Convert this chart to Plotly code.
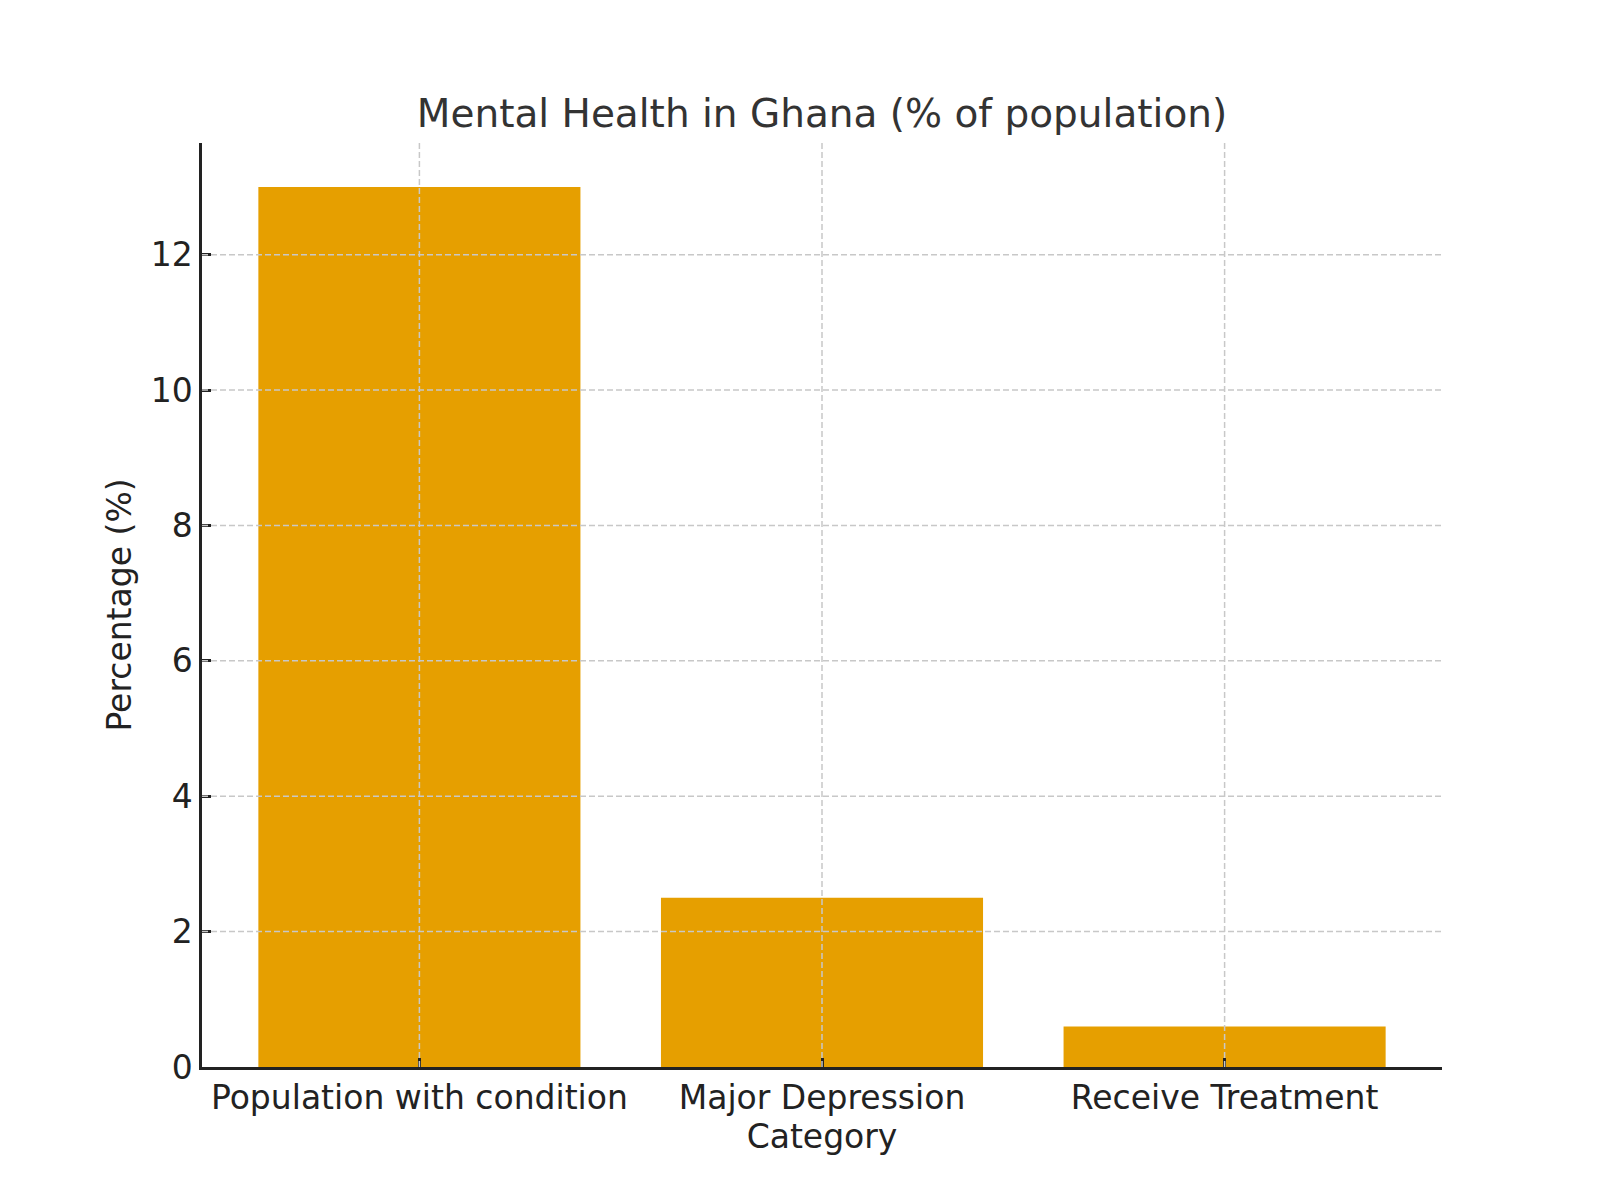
import plotly.graph_objects as go

# mental health figures for Ghana, % of population
categories = ["Population with condition", "Major Depression", "Receive Treatment"]
percentages = [13.0, 2.5, 0.6]
y_ticks = [0, 2, 4, 6, 8, 10, 12]

fig = go.Figure()
fig.add_bar(x=categories, y=percentages, width=0.8, marker=dict(color="#E69F00", line=dict(width=0)))

# grid sits on top of the bars in the original, so draw it as shapes
grid_line = dict(color="#c8c8c8", width=1.5, dash="6px,3px")
for c in categories:
    fig.add_shape(type="line", xref="x", yref="paper", x0=c, x1=c, y0=0, y1=1,
                  line=grid_line, layer="above")
for t in y_ticks[1:]:
    fig.add_shape(type="line", xref="paper", yref="y", x0=0, x1=1, y0=t, y1=t,
                  line=grid_line, layer="above")

axis_font = dict(family="DejaVu Sans", size=33, color="#222222")
fig.update_layout(
    width=1600, height=1200,
    margin=dict(l=194, r=166, t=135, b=141),
    paper_bgcolor="white", plot_bgcolor="white",
    showlegend=False,
    font=dict(family="DejaVu Sans", color="#222222"),
    title=dict(text="Mental Health in Ghana (% of population)", x=0.5, xref="paper", xanchor="center",
               y=1 - 105 / 1200, yanchor="middle", font=dict(size=39, color="#333333")),
)
fig.update_xaxes(
    range=[-0.54, 2.54], showline=True, linecolor="#222222", linewidth=2.5,
    ticks="inside", ticklen=9, tickwidth=2.5, tickcolor="#222222", tickfont=axis_font,
    showgrid=False,
    title=dict(text="Category", font=axis_font, standoff=8), layer="above traces",
)
fig.update_yaxes(
    range=[0, 13.65], tickvals=y_ticks, showline=True, linecolor="#222222", linewidth=2.5,
    ticks="inside", ticklen=9, tickwidth=2.5, tickcolor="#222222", tickfont=axis_font,
    showgrid=False, zeroline=False,
    title=dict(text="Percentage (%)", font=axis_font, standoff=10), layer="above traces",
)

fig.write_html("out.html")
